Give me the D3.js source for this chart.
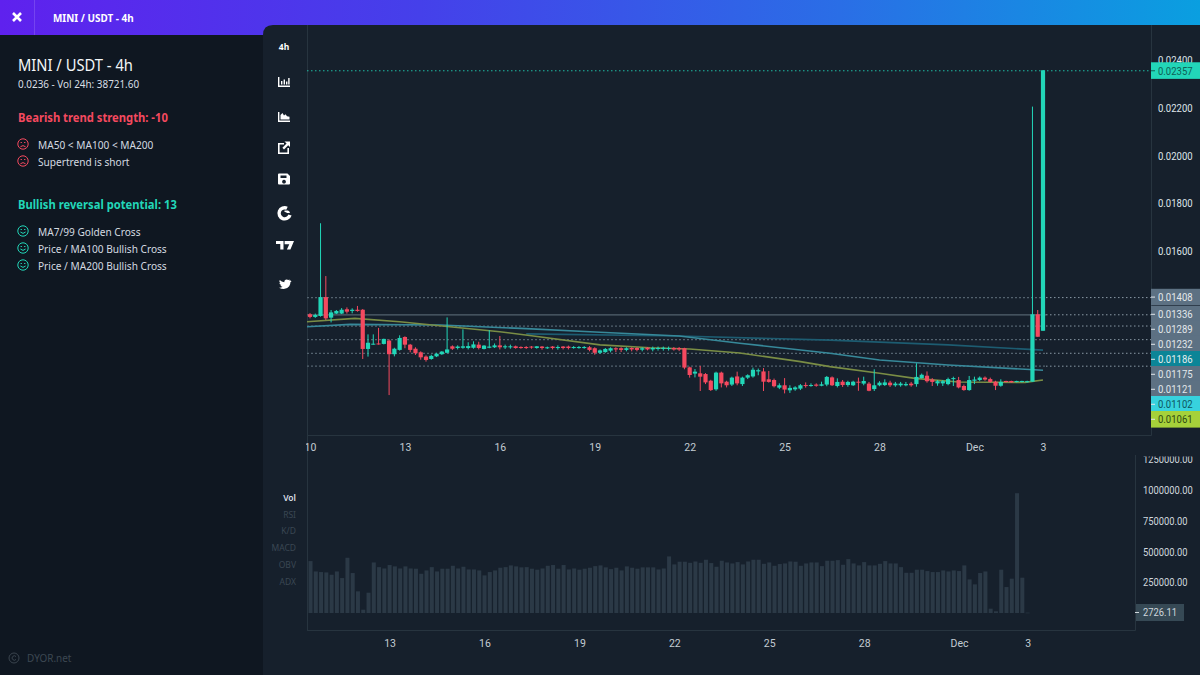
<!DOCTYPE html>
<html><head><meta charset="utf-8">
<script src="https://cdn.jsdelivr.net/npm/d3@7"></script>
<style>html,body{margin:0;padding:0;background:#0f1721;overflow:hidden}svg{display:block}</style>
</head><body><div id="c"></div>
<script>
// prices are in units of 0.00001 USDT
const open=[1336,1325,1329,1408,1322,1339,1339,1357,1350,1355,1355,1191,1210,1214,1212,1226,1169,1187,1241,1209,1192,1177,1159,1149,1160,1169,1175,1202,1195,1196,1195,1196,1209,1191,1196,1198,1206,1198,1198,1202,1199,1199,1201,1195,1201,1194,1201,1196,1201,1201,1195,1196,1196,1198,1194,1175,1178,1184,1194,1194,1187,1195,1195,1188,1196,1189,1192,1191,1191,1195,1195,1194,1114,1088,1089,1086,1058,1022,1092,1054,1042,1076,1044,1071,1076,1097,1097,1064,1061,1029,1039,1018,1022,1025,1040,1037,1042,1037,1042,1072,1036,1054,1040,1039,1054,1046,1046,1023,1039,1040,1050,1039,1039,1039,1046,1044,1069,1079,1063,1047,1047,1044,1067,1061,1036,1019,1058,1061,1071,1065,1054,1037,1057,1057,1053,1053,1053,1054,1336,1267];
const high=[1341,1339,1717,1496,1354,1354,1362,1365,1361,1371,1358,1252,1252,1279,1234,1231,1196,1248,1244,1212,1198,1181,1164,1167,1175,1182,1323,1206,1206,1273,1219,1223,1221,1207,1270,1214,1245,1209,1209,1205,1202,1203,1203,1203,1203,1201,1203,1206,1203,1205,1203,1203,1203,1203,1198,1189,1195,1198,1198,1198,1198,1198,1198,1198,1199,1201,1201,1201,1201,1199,1199,1196,1117,1107,1120,1090,1062,1096,1096,1058,1075,1096,1075,1085,1113,1109,1111,1099,1067,1047,1069,1039,1035,1044,1051,1047,1047,1054,1078,1076,1068,1061,1058,1058,1071,1075,1053,1106,1056,1064,1058,1053,1053,1053,1053,1131,1088,1097,1069,1061,1061,1071,1075,1074,1042,1078,1075,1076,1076,1071,1058,1064,1058,1058,1058,1058,1058,2205,1354,2357];
const low=[1319,1321,1326,1312,1302,1337,1337,1339,1340,1347,1149,1159,1209,1209,1210,998,1160,1184,1194,1177,1166,1146,1138,1146,1157,1166,1173,1187,1189,1192,1189,1192,1189,1189,1194,1195,1189,1191,1192,1192,1192,1191,1192,1192,1188,1191,1189,1188,1189,1189,1192,1192,1192,1181,1167,1170,1175,1177,1178,1178,1181,1181,1181,1181,1185,1181,1184,1184,1184,1184,1182,1106,1071,1072,1015,1044,1015,1016,1030,1030,1036,1039,1036,1065,1071,1081,1015,1050,1030,1023,1005,1007,1016,1019,1029,1033,1033,1035,1035,1036,1030,1032,1033,1036,1016,1039,1014,1015,1035,1036,1032,1033,1033,1035,1033,1033,1067,1050,1036,1037,1036,1039,1036,1026,1016,1016,1044,1056,1058,1050,1019,1033,1051,1050,1051,1051,1051,1054,1242,1267];
const close=[1325,1333,1408,1319,1344,1350,1355,1347,1355,1350,1191,1217,1213,1210,1233,1169,1192,1237,1209,1187,1173,1156,1145,1162,1171,1180,1189,1192,1201,1202,1203,1210,1195,1205,1201,1206,1198,1202,1202,1195,1195,1195,1198,1202,1195,1198,1195,1199,1195,1195,1199,1199,1199,1187,1175,1185,1191,1194,1189,1187,1194,1189,1187,1194,1189,1195,1195,1196,1195,1189,1189,1113,1082,1096,1075,1051,1019,1092,1047,1039,1071,1047,1071,1081,1104,1102,1054,1053,1035,1039,1021,1028,1030,1039,1036,1040,1037,1043,1074,1039,1053,1040,1053,1054,1050,1057,1016,1039,1050,1051,1039,1046,1046,1044,1039,1074,1083,1056,1053,1056,1056,1065,1069,1030,1019,1061,1063,1071,1063,1053,1037,1053,1053,1051,1057,1057,1056,1336,1242,2357];
// volume in thousands, first value belongs to candle index 3
const volume=[422,338,333,330,311,338,284,449,325,176,27,165,411,373,362,390,379,362,379,362,360,319,346,373,338,360,360,384,362,376,354,354,346,306,333,346,368,373,387,379,371,373,360,352,362,384,390,360,390,354,362,352,360,368,381,387,371,357,368,346,379,368,360,371,371,371,354,362,460,395,417,417,408,419,408,433,406,376,425,411,403,414,395,419,433,433,400,411,384,398,403,419,417,384,403,411,411,381,425,425,430,392,438,403,387,414,387,387,400,422,403,403,373,327,327,352,352,341,333,333,346,338,346,341,387,273,233,325,338,35,14,352,211,279,974,287,2.72611];
const ma50Idx=[-0.6,8.5,17,26.5,36,42,55,64.5,72,81.5,93,98.6,108,114.7,123,135.6,139];
const ma50=[1305,1319,1305,1284,1263,1246,1208,1196,1191,1174,1138,1117,1089,1068,1053,1051,1061];
const ma100Idx=[-0.6,7.6,24.7,40,55,70,81.5,98.6,108,121,139];
const ma100=[1284,1294,1291,1277,1261,1245,1215,1173,1145,1124,1102];
const ma200Idx=[41,70,98.6,121,139];
const ma200=[1254,1245,1228,1208,1186];
const levels=[1408,1336,1289,1232,1175,1121];
const levelLabels=[1408,1336,1289,1232,1186,1175,1121,1102,1061];
const levelKinds=["lvl","lvl","lvl","lvl","ma200","lvl","lvl","ma100","ma50"];
const lastPrice=2357;
const priceTicks=[2400,2200,2000,1800,1600];
const timeTickIdx=[0,18,36,54,72,90,108,126,139];
const timeTickText=["10","13","16","19","22","25","28","Dec","3"];
const volTicks=[250,500,750,1000,1250];
const volLast="2726.11";
const indicatorTabs=["Vol","RSI","K/D","MACD","OBV","ADX"];
const bearish=["MA50 < MA100 < MA200","Supertrend is short"];
const bullish=["MA7/99 Golden Cross","Price / MA100 Bullish Cross","Price / MA200 Bullish Cross"];

const GREEN="#22d6b8",RED="#f4495f",BG="#16202c",SIDE="#0f1721",LINE="#27343f";
const UI="'Noto Sans',sans-serif",NUM="Roboto,sans-serif";
const svg=d3.select("#c").append("svg").attr("width",1200).attr("height",675);
// squeezes a text horizontally to mimic the reference's condensed face
function squeeze(sel,r){sel.each(function(){const l=this.getComputedTextLength();this.setAttribute("textLength",(l*r).toFixed(1));this.setAttribute("lengthAdjust","spacingAndGlyphs");});return sel;}
const defs=svg.append("defs");
const g=defs.append("linearGradient").attr("id","hdr");
[[0,"#5f21ee"],[0.35,"#4540ea"],[0.7,"#2a6ee6"],[1,"#0a9fe0"]].forEach(s=>g.append("stop").attr("offset",s[0]).attr("stop-color",s[1]));
defs.append("clipPath").attr("id","cp").append("rect").attr("x",307).attr("y",25).attr("width",844).attr("height",411);
defs.append("clipPath").attr("id","cv").append("rect").attr("x",307).attr("y",455).attr("width",828).attr("height",176);
defs.append("clipPath").attr("id","cpx").append("rect").attr("x",306).attr("y",0).attr("width",900).attr("height",30);
defs.append("clipPath").attr("id","ca2").append("rect").attr("x",0).attr("y",456.5).attr("width",70).attr("height",180);

svg.append("rect").attr("width",1200).attr("height",675).attr("fill",SIDE);
svg.append("rect").attr("width",1200).attr("height",35).attr("fill","url(#hdr)");
svg.append("line").attr("x1",34.5).attr("x2",34.5).attr("y1",0).attr("y2",35).attr("stroke","#fff").attr("stroke-opacity",0.15);
svg.append("path").attr("d","M13 13L21 21M21 13L13 21").attr("stroke","#fff").attr("stroke-width",2.6);
squeeze(svg.append("text").attr("x",53).attr("y",22).text("MINI / USDT - 4h").attr("fill","#fff").attr("font-family",UI).attr("font-weight",700).attr("font-size",10.8),.92);
svg.append("path").attr("d","M263 675V35Q263 25 273 25H1200V675Z").attr("fill",BG);
svg.append("line").attr("x1",307.5).attr("x2",307.5).attr("y1",25).attr("y2",631).attr("stroke",LINE);

// sidebar
const t=(x,y,s,size,col,w,r)=>squeeze(svg.append("text").attr("x",x).attr("y",y).text(s).attr("font-family",UI).attr("font-size",size).attr("fill",col).attr("font-weight",w||400),r||1);
t(18,71,"MINI / USDT - 4h",15.5,"#f2f5f7",400,.95);
t(18,88,"0.0236 - Vol 24h: 38721.60",10.8,"#d9dfe4",400,.917);
t(18,122,"Bearish trend strength: -10",12,RED,700,.935);
t(18,209,"Bullish reversal potential: 13",12,GREEN,700,.935);
function face(cy,col,happy){
  const f=svg.append("g").attr("transform",`translate(23,${cy})`).attr("fill","none").attr("stroke",col).attr("stroke-width",1);
  f.append("circle").attr("r",5.2);
  f.append("path").attr("d",happy?"M-2.6 1Q0 3.8 2.6 1":"M-2.6 2.8Q0 0.4 2.6 2.8");
  f.append("path").attr("d","M-2.4 -1.5h1.3M1.1 -1.5h1.3");
}
bearish.forEach((s,i)=>{const y=145+i*17;face(y-1,RED,false);t(38,y+3.8,s,11,"#d4dae0",400,.92);});
bullish.forEach((s,i)=>{const y=232+i*17;face(y-1,GREEN,true);t(38,y+3.8,s,11,"#d4dae0",400,.92);});
const cg=svg.append("g").attr("transform","translate(14,658)").attr("fill","none").attr("stroke","#3a444e");
cg.append("circle").attr("r",5);cg.append("path").attr("d","M2 -1.4A2.2 2.2 0 1 0 2 1.4");
t(27,662,"DYOR.net",11,"#3d4852",400,.9);

// toolbar
const tb=svg.append("g").attr("fill","#fff").attr("transform","translate(-1,0)");
tb.append("text").attr("x",285).attr("y",49.5).attr("text-anchor","middle").text("4h").attr("font-family",UI).attr("font-size",8.5).attr("font-weight",700);
tb.append("path").attr("d","M279 77h1.4v8.6H291v1.4H279ZM282 81h1.4v3.5H282ZM284.6 79.5h1.4v5H284.6ZM287 81.5h1.4v3H287ZM289.2 78h1.4v6.5h-1.4Z");
tb.append("path").attr("d","M279 112h1.4v8.6H291v1.4H279ZM281.5 119.5V115l2 -2 1.5 2.5 1.5 -1.2 1.5 2 2.5 .5v2.7Z");
tb.append("path").attr("d","M279 143h6v1.6h-4.4v7.8h7.8V148h1.6v6H279ZM285.5 141.5h5.5v5.5l-1.8 -1.8 -4.2 4.2 -1.6 -1.6 4.2 -4.2Z");
tb.append("path").attr("fill-rule","evenodd").attr("d","M280 173.5h8.5l2.5 2.5v7.5q0 1 -1 1h-10q-1 0 -1 -1v-9q0 -1 1 -1ZM281.5 175.5v2.6h6v-2.6ZM285 179.8a1.9 1.9 0 1 0 .01 0Z");
tb.append("path").attr("fill","none").attr("stroke","#fff").attr("stroke-width",3.4).attr("d","M291 215A5.6 5.6 0 1 1 288 208.2");
tb.append("path").attr("d","M285.5 210.5h3.5a3 3 0 0 1 2 2.5h-3a3 3 0 0 0 -2.5 -1Z");
tb.append("path").attr("d","M277 241h7.5v8.5h-3.2v-5.4H277ZM285.6 241h9.4l-3.6 8.5h-3.5l2.4 -5.3h-4.7Z");
tb.append("path").attr("d","M291 280.3q-.6 .4 -1.3 .5 .7 -.5 1 -1.2 -.7 .4 -1.4 .5a2.4 2.4 0 0 0 -4 2.1q-2.8 -.2 -4.6 -2.3 -1 1.8 .7 3.2 -.5 0 -1 -.3 0 1.8 1.9 2.3 -.5 .2 -1 0 .5 1.6 2.2 1.7 -1.4 1.1 -3.6 .9 6.5 3.4 10.3 -1.5 1.3 -1.8 1.2 -4 .6 -.4 1.1 -1Z");

// scales
const x=d3.scaleLinear().domain([0,139]).range([310,1043]);
const xv=d3.scaleLinear().domain([0,139]).range([294.7,1027.6]);
const y=d3.scaleLinear().domain([2400,1600]).range([60,251.2]);
const yv=d3.scaleLinear().domain([0,1000]).range([613,490]);

// price pane frame
svg.append("path").attr("d","M307.5 435.5H1151.5V25").attr("fill","none").attr("stroke",LINE);
const pane=svg.append("g").attr("clip-path","url(#cp)");

const xEnd=x(139)+3;
pane.selectAll(".lvlL").data(levels).join("line").attr("x1",307).attr("x2",xEnd)
 .attr("y1",d=>y(d)+.5).attr("y2",d=>y(d)+.5).attr("stroke","#53626e").attr("stroke-width",1.3)
 .attr("stroke-dasharray",d=>d===1336?null:"2 2");
pane.selectAll(".lvlR").data(levels).join("line").attr("x1",xEnd).attr("x2",1151)
 .attr("y1",d=>y(d)+.5).attr("y2",d=>y(d)+.5).attr("stroke","#8a9aa6").attr("stroke-width",1)
 .attr("stroke-dasharray","1.5 2.5");
pane.append("line").attr("x1",307).attr("x2",1151).attr("y1",y(lastPrice)+.5).attr("y2",y(lastPrice)+.5)
 .attr("stroke",GREEN).attr("stroke-width",1).attr("stroke-dasharray","1.5 2.5").attr("opacity",.85);

const mkLine=(idx)=>d3.line().x((d,i)=>x(idx[i])).y(d=>y(d));
[[ma200,ma200Idx,"#1d5c71"],[ma100,ma100Idx,"#37899a"],[ma50,ma50Idx,"#7a8d45"]].forEach(m=>{
  pane.append("path").attr("d",mkLine(m[1])(m[0])).attr("fill","none").attr("stroke",m[2]).attr("stroke-width",1.6);
});

const idx=d3.range(open.length);
const col=i=>close[i]>=open[i]?GREEN:RED;
pane.selectAll(".w").data(idx).join("line").attr("x1",i=>x(i)).attr("x2",i=>x(i))
 .attr("y1",i=>y(high[i])).attr("y2",i=>y(low[i])).attr("stroke",col).attr("stroke-width",1);
pane.selectAll(".b").data(idx).join("rect").attr("x",i=>x(i)-2.1).attr("width",4.2)
 .attr("y",i=>y(Math.max(open[i],close[i]))).attr("height",i=>Math.max(1,Math.abs(y(open[i])-y(close[i])))).attr("fill",col);

// axes
function styleAxis(a,size,col2,r){a.select(".domain").remove();a.selectAll("line").remove();const s=a.selectAll("text").attr("font-family",NUM).attr("font-size",size).attr("fill",col2);if(r)squeeze(s,r);}
const axP=svg.append("g").attr("transform","translate(1151,0)")
 .call(d3.axisRight(y).tickValues(priceTicks).tickSize(0).tickPadding(7).tickFormat(d=>(d/1e5).toFixed(5)));
styleAxis(axP,11.2,"#dfe5ea",.85);
const axT=svg.append("g").attr("clip-path","url(#cpx)").attr("transform","translate(0,436)")
 .call(d3.axisBottom(x).tickValues(timeTickIdx).tickSize(0).tickPadding(8).tickFormat((d,i)=>timeTickText[i]));
styleAxis(axT,10.5,"#c3ccd3");

// level labels (stacked so they never overlap)
const kinds={lvl:["#5d7183","#e3e8ec"],ma200:["#0c8597","#e3eef0"],ma100:["#37d2de","#0d5560"],ma50:["#a6d13a","#2e4a12"]};
let prev=-100;
const lab=svg.append("g");
levelLabels.forEach((v,i)=>{
  const yy=Math.max(y(v),prev+15);prev=yy;
  const k=kinds[levelKinds[i]];
  lab.append("rect").attr("x",1151).attr("y",yy-8.3).attr("width",49).attr("height",16.6).attr("fill",k[0]);
  lab.append("line").attr("x1",1151).attr("x2",1155).attr("y1",yy).attr("y2",yy).attr("stroke","#e3e8ec");
  squeeze(lab.append("text").attr("x",1158).attr("y",yy+4).text((v/1e5).toFixed(5)).attr("font-family",NUM).attr("font-size",11.2).attr("fill",k[1]),.85);
});
lab.append("rect").attr("x",1151).attr("y",y(lastPrice)-8).attr("width",49).attr("height",16.6).attr("fill",GREEN);
lab.append("line").attr("x1",1151).attr("x2",1155).attr("y1",y(lastPrice)+.5).attr("y2",y(lastPrice)+.5).attr("stroke","#0f5f55");
squeeze(lab.append("text").attr("x",1158).attr("y",y(lastPrice)+4.5).text((lastPrice/1e5).toFixed(5)).attr("font-family",NUM).attr("font-size",11.2).attr("fill","#0f5f55"),.85);

// volume pane
svg.append("path").attr("d","M307.5 630.5H1135.5V455").attr("fill","none").attr("stroke",LINE);
const vp=svg.append("g").attr("clip-path","url(#cv)");
vp.selectAll("rect").data(volume).join("rect").attr("x",(d,i)=>xv(i+3)-2).attr("width",4)
 .attr("y",d=>yv(d)).attr("height",d=>Math.max(.6,yv(0)-yv(d))).attr("fill","#2b3946");
const axV=svg.append("g").attr("transform","translate(1135,0)").attr("clip-path","url(#ca2)")
 .call(d3.axisRight(yv).tickValues(volTicks).tickSize(0).tickPadding(8).tickFormat(d=>(d*1000).toFixed(2)));
styleAxis(axV,11,"#cfd7dd",.85);
const axTV=svg.append("g").attr("transform","translate(0,631)")
 .call(d3.axisBottom(xv).tickValues(timeTickIdx.slice(1)).tickSize(0).tickPadding(9).tickFormat((d,i)=>timeTickText[i+1]));
styleAxis(axTV,10.5,"#c3ccd3");
svg.append("rect").attr("x",1136).attr("y",604).attr("width",48).attr("height",17).attr("fill","#364955");
svg.append("line").attr("x1",1135).attr("x2",1139).attr("y1",612.5).attr("y2",612.5).attr("stroke","#cfd7dd");
squeeze(svg.append("text").attr("x",1143).attr("y",616.4).text(volLast).attr("font-family",NUM).attr("font-size",11).attr("fill","#cfd7dd"),.85);
indicatorTabs.forEach((s,i)=>{
  svg.append("text").attr("x",296).attr("y",501+i*16.7).attr("text-anchor","end").text(s)
   .attr("font-family",UI).attr("font-size",8.5).attr("font-weight",i?400:600).attr("fill",i?"#3a4753":"#d8dee3");
});
</script></body></html>
